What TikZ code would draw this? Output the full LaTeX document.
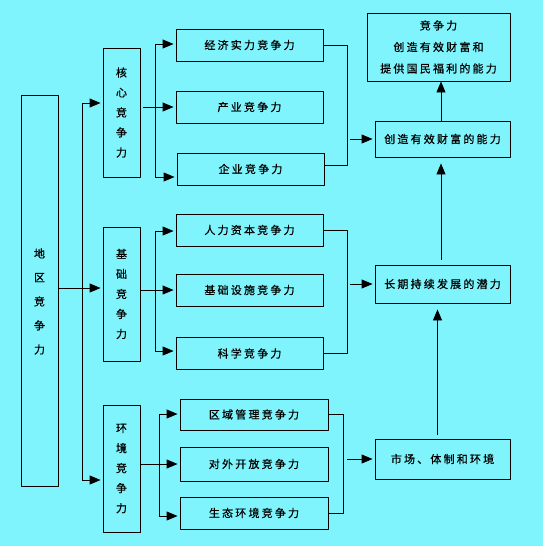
\documentclass[tikz,border=0pt]{standalone}
\usepackage{fontspec}
\setmainfont{Noto Sans CJK SC}[LetterSpace=20,FakeBold=0.6]
\usetikzlibrary{arrows.meta,calc}
\definecolor{bgcyan}{RGB}{128,244,252}
\tikzset{every picture/.append style={
    line join=round,
    line width=0.9pt
  },
box/.style={draw, inner sep=0pt, minimum width=147, minimum height=32, font=\fontsize{11}{13}\selectfont},
vbox/.style={draw, inner sep=0pt, minimum width=37, align=center, font=\fontsize{11}{20}\selectfont},
arr/.style={-{Triangle[length=11pt,width=9pt]}, shorten >=2pt}}

\begin{document}
\begin{tikzpicture}[x=1pt,y=-1pt]
    \fill [bgcyan] (0,0) rectangle (543,546);
    \useasboundingbox (0,0) rectangle (543,546);
    \node [vbox, minimum height=391] (dq) at (39.5,290.5) {};
    \node [align=center, font=\fontsize{11}{24}\selectfont] (dqtext) at (39.5,301.5) {地\\区\\竞\\争\\力};
    \node [vbox, minimum height=129] (hx) at (121.5,112.5) {核\\心\\竞\\争\\力};
    \node [vbox, minimum height=134] (jc) at (121.5,294) {基\\础\\竞\\争\\力};
    \node [vbox, minimum height=127] (hj) at (121.5,468.5) {环\\境\\竞\\争\\力};
    \node [box] (jj) at (249.5,45) {经济实力竞争力};
    \node [box] (cy) at (249.5,107) {产业竞争力};
    \node [box] (qy) at (250.5,169) {企业竞争力};
    \node [box] (rl) at (249.5,230) {人力资本竞争力};
    \node [box] (ss) at (249.5,290) {基础设施竞争力};
    \node [box] (kx) at (249.5,353.5) {科学竞争力};
    \node [box, minimum width=148, minimum height=31] (qg) at (254,414.5) {区域管理竞争力};
    \node [box, minimum width=148, minimum height=34] (dw) at (254,464) {对外开放竞争力};
    \node [box, minimum width=148] (st) at (254,513) {生态环境竞争力};
    \node [box, minimum width=143, minimum height=68, align=center, font=\fontsize{11}{21.5}\selectfont] (top) at (438.5,47) {竞争力\\创造有效财富和\\提供国民福利的能力};
    \node [box, minimum width=135, minimum height=36] (cz) at (442.5,139) {创造有效财富的能力};
    \node [box, minimum width=135, minimum height=38] (cq) at (442.5,284) {长期持续发展的潜力};
    \node [box, minimum width=135, minimum height=40] (sc) at (442.5,459) {市场、体制和环境};
    \coordinate (t0a) at (82,103);
    \coordinate (t0b) at (82,480);
    \coordinate (s0) at (82,288);
    \draw (t0a) -- (t0b);
    \draw [arr] (t0a) -- (hx.west |- t0a);
    \draw [arr] (t0b) -- (hj.west |- t0b);
    \draw [arr] (dq.east |- s0) -- (jc.west |- s0);
    \coordinate (t1a) at (155,44);
    \coordinate (t1b) at (155,177);
    \draw (t1a) -- (t1b);
    \draw [arr] (t1a) -- (jj.west |- t1a);
    \draw [arr] (t1b) -- (qy.west |- t1b);
    \draw [arr, shorten <=3pt] (hx.east |- cy.west) -- (cy.west);
    \coordinate (t2a) at (155,231);
    \coordinate (t2b) at (155,351);
    \draw (t2a) -- (t2b);
    \draw [arr] (t2a) -- (rl.west |- t2a);
    \draw [arr] (t2b) -- (kx.west |- t2b);
    \draw [arr] (jc.east |- ss.west) -- (ss.west);
    \coordinate (t3a) at (159,414);
    \coordinate (t3b) at (159,516);
    \draw (t3a) -- (t3b);
    \draw [arr] (t3a) -- (qg.west |- t3a);
    \draw [arr] (t3b) -- (st.west |- t3b);
    \draw [arr] (hj.east |- dw.west) -- (dw.west);
    \coordinate (b1) at (347,0);
    \coordinate (b2) at (347,0);
    \coordinate (b3) at (343,0);
    \draw (jj.east) -- (jj.east -| b1) -- ([yshift=4pt]qy.east -| b1) -- ([yshift=4pt]qy.east);
    \draw [arr] ($(b1 |- cz.west)+(3,0)$) -- (cz.west);
    \draw (rl.east) -- (rl.east -| b2) -- (kx.east -| b2) -- (kx.east);
    \draw [arr] ($(b2 |- cq.west)+(3,0)$) -- (cq.west);
    \draw (qg.east) -- (qg.east -| b3) -- (st.east -| b3) -- (st.east);
    \draw [arr] ($(b3 |- sc.west)+(4,0)$) -- (sc.west);
    \draw [arr, shorten >=0pt] ([xshift=-1.5pt]cz.north) -- ([xshift=-1.5pt]cz.north |- top.south);
    \draw [arr, shorten <=5pt, shorten >=6pt] ([xshift=-1.5pt]cq.north) -- ([xshift=-1.5pt]cz.south);
    \draw [arr, shorten <=4pt, shorten >=6pt] ([xshift=-5pt]sc.north) -- ([xshift=-5pt]cq.south);
\end{tikzpicture}
\end{document}
